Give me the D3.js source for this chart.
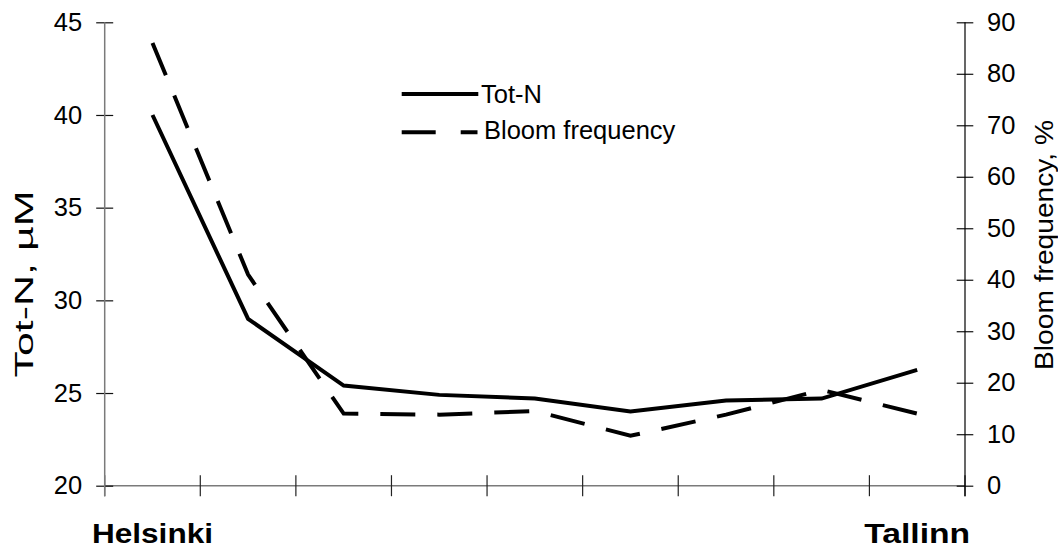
<!DOCTYPE html>
<html>
<head>
<meta charset="utf-8">
<script src="https://cdn.jsdelivr.net/npm/d3@7/dist/d3.min.js"></script>
<style>
  html, body { margin: 0; padding: 0; background: #fff; }
  svg { display: block; }
  text { font-family: "Liberation Sans", Arial, Helvetica, sans-serif; fill: #000; }
</style>
</head>
<body>
<svg id="chart" width="1058" height="549"></svg>
<script>
// ---- data ----
const categories = ["Helsinki", "St2", "St3", "St4", "St5", "St6", "St7", "St8", "Tallinn"];
const categoryLabels = ["Helsinki", "", "", "", "", "", "", "", "Tallinn"];
const totN = [40.0, 29.0, 25.4, 24.9, 24.7, 24.0, 24.6, 24.7, 26.25];
const bloomFrequency = [86, 41, 14, 13.8, 14.5, 9.7, 13.8, 18.6, 14];
const leftTicks = [20, 25, 30, 35, 40, 45];
const rightTicks = [0, 10, 20, 30, 40, 50, 60, 70, 80, 90];
const seriesNames = ["Tot-N", "Bloom frequency"];
const leftTitle = "Tot-N, µM";
const rightTitle = "Bloom frequency, %";

// ---- layout ----
const L = 104.7, R = 965, T = 22.3, B = 485.7;
const svg = d3.select("#chart");

const x = d3.scaleBand().domain(categories).range([L, R]).paddingInner(0).paddingOuter(0);
const yL = d3.scaleLinear().domain([20, 45]).range([B, T]);
const yR = d3.scaleLinear().domain([0, 90]).range([B, T]);
const cx = c => x(c) + x.bandwidth() / 2;

// bottom axis line
svg.append("line").attr("x1", L).attr("x2", R).attr("y1", B).attr("y2", B)
  .attr("stroke", "#7a7a7a").attr("stroke-width", 1.5);

// bottom ticks at category boundaries
const bounds = categories.map(c => x(c)).concat([x.range()[1]]);
svg.append("g").selectAll("line").data(bounds).join("line")
  .attr("x1", d => d).attr("x2", d => d)
  .attr("y1", B - 10.5).attr("y2", B + 10.5)
  .attr("stroke", "#222").attr("stroke-width", 1.2);

// left axis
const gL = svg.append("g").attr("transform", `translate(${L},0)`)
  .call(d3.axisLeft(yL).tickValues(leftTicks).tickSize(8.5).tickPadding(14));
gL.select(".domain").remove();
gL.selectAll(".tick line").attr("x1", 8.5).attr("stroke", "#111").attr("stroke-width", 1.2);
gL.selectAll(".tick text").attr("font-size", 25.5).attr("font-family", "Liberation Sans, Arial, sans-serif").attr("fill", "#000");
svg.append("line").attr("x1", L).attr("x2", L).attr("y1", T).attr("y2", B + 10.5)
  .attr("stroke", "#7a7a7a").attr("stroke-width", 1.5);

// right axis
const gR = svg.append("g").attr("transform", `translate(${R},0)`)
  .call(d3.axisRight(yR).tickValues(rightTicks).tickSize(8.3).tickPadding(13.7));
gR.select(".domain").remove();
gR.selectAll(".tick line").attr("x1", -8.3).attr("stroke", "#111").attr("stroke-width", 1.2);
gR.selectAll(".tick text").attr("font-size", 25.5).attr("font-family", "Liberation Sans, Arial, sans-serif").attr("fill", "#000");
svg.append("line").attr("x1", R).attr("x2", R).attr("y1", T).attr("y2", B + 10.5)
  .attr("stroke", "#000").attr("stroke-width", 1.2);

// category labels (ends only)
svg.append("g").selectAll("text").data(categories.map((c, i) => ({ c, label: categoryLabels[i] })).filter(d => d.label))
  .join("text")
  .attr("x", d => cx(d.c)).attr("y", 543.3)
  .attr("text-anchor", "middle").attr("font-weight", "bold").attr("font-size", 28)
  .attr("textLength", d => d.label === "Helsinki" ? 121 : 106)
  .attr("lengthAdjust", "spacingAndGlyphs")
  .text(d => d.label);

// axis titles
svg.append("text").attr("transform", "translate(33.3,284) rotate(-90)")
  .attr("text-anchor", "middle").attr("font-size", 26)
  .attr("textLength", 187).attr("lengthAdjust", "spacingAndGlyphs")
  .text(leftTitle);
svg.append("text").attr("transform", "translate(1053.3,245) rotate(-90)")
  .attr("text-anchor", "middle").attr("font-size", 25.6)
  .attr("textLength", 250).attr("lengthAdjust", "spacingAndGlyphs")
  .text(rightTitle);

// series lines
const lineL = d3.line().x((d, i) => cx(categories[i])).y(d => yL(d));
const lineR = d3.line().x((d, i) => cx(categories[i])).y(d => yR(d));
svg.append("path").datum(totN).attr("d", lineL)
  .attr("fill", "none").attr("stroke", "#000").attr("stroke-width", 4);
svg.append("path").datum(bloomFrequency).attr("d", lineR)
  .attr("fill", "none").attr("stroke", "#000").attr("stroke-width", 4)
  .attr("stroke-dasharray", "35,22");

// legend
const leg = svg.append("g");
leg.append("line").attr("x1", 401.7).attr("x2", 478.3).attr("y1", 94).attr("y2", 94)
  .attr("stroke", "#000").attr("stroke-width", 4);
leg.append("line").attr("x1", 401.7).attr("x2", 477.5).attr("y1", 132.3).attr("y2", 132.3)
  .attr("stroke", "#000").attr("stroke-width", 4).attr("stroke-dasharray", "34,25");
leg.append("text").attr("x", 481).attr("y", 103.2).attr("font-size", 25.5).text(seriesNames[0]);
leg.append("text").attr("x", 484).attr("y", 138.5).attr("font-size", 25.5).text(seriesNames[1]);
</script>
</body>
</html>
